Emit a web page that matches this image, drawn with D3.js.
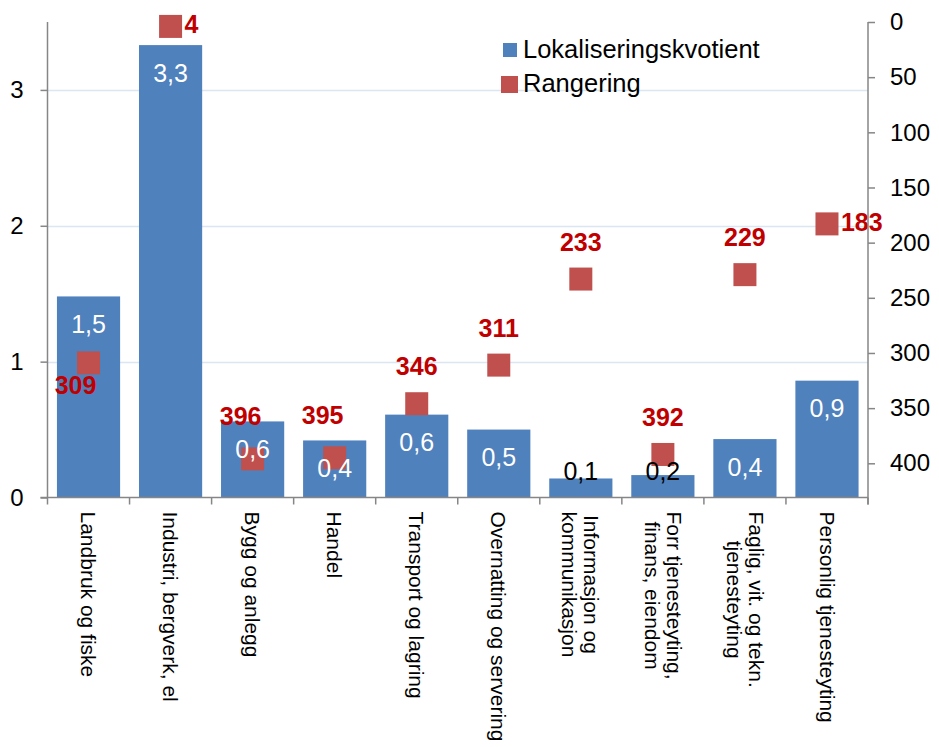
<!DOCTYPE html>
<html>
<head>
<meta charset="utf-8">
<script src="https://cdn.jsdelivr.net/npm/d3@7"></script>
<style>
  html, body { margin: 0; padding: 0; background: #ffffff; }
  svg { display: block; font-family: "Liberation Sans", Arial, sans-serif; }
</style>
</head>
<body>
<svg id="chart" width="939" height="747"></svg>
<script>
// ---- Data ----
const categories = [
  "Landbruk og fiske",
  "Industri, bergverk, el",
  "Bygg og anlegg",
  "Handel",
  "Transport og lagring",
  "Overnatting og servering",
  "Informasjon og\nkommunikasjon",
  "Forr tjenesteyting,\nfinans, eiendom",
  "Faglig, vit. og tekn.\ntjenesteyting",
  "Personlig tjenesteyting"
];
const lqValues = [1.48, 3.33, 0.56, 0.42, 0.61, 0.50, 0.14, 0.165, 0.43, 0.86];
const rankValues = [309, 4, 396, 395, 346, 311, 233, 392, 229, 183];
const rankLabelPlacement = ["below-left", "right", "above-left", "above-left", "above", "above", "above", "above", "above", "right"];
const leftTicks = [0, 1, 2, 3];
const rightTicks = [0, 50, 100, 150, 200, 250, 300, 350, 400];
const seriesNames = ["Lokaliseringskvotient", "Rangering"];

// ---- Layout ----
const svg = d3.select("#chart");
const plotLeft = 47.5, plotRight = 868, plotTop = 22, plotBottom = 497.5;
const barColor = "#4F81BD", rankColor = "#C0504D", rankText = "#C00000";
const axisColor = "#868686", gridColor = "#DCE6F2";

const x = d3.scaleBand().domain(d3.range(categories.length))
  .range([plotLeft, plotRight]).paddingInner(0.23).paddingOuter(0.115);
const yL = d3.scaleLinear().domain([0, 3.5]).range([plotBottom, plotTop]);
const yR = d3.scaleLinear().domain([0, 431]).range([plotTop, plotBottom]);

svg.append("rect").attr("width", 939).attr("height", 747).attr("fill", "#fff");

// gridlines
svg.append("g").selectAll("line").data(leftTicks.filter(d => d > 0)).join("line")
  .attr("x1", plotLeft).attr("x2", plotRight)
  .attr("y1", d => Math.round(yL(d)) + 0.5).attr("y2", d => Math.round(yL(d)) + 0.5)
  .attr("stroke", gridColor).attr("stroke-width", 1.5);

// bars
svg.append("g").selectAll("rect").data(lqValues).join("rect")
  .attr("x", (d, i) => x(i)).attr("width", x.bandwidth())
  .attr("y", d => yL(d)).attr("height", d => yL(0) - yL(d))
  .attr("fill", barColor);

// rank squares
const sq = 23;
svg.append("g").selectAll("rect").data(rankValues).join("rect")
  .attr("x", (d, i) => x(i) + x.bandwidth() / 2 - sq / 2)
  .attr("y", d => yR(d) - sq / 2)
  .attr("width", sq).attr("height", sq)
  .attr("fill", rankColor);

// bar value labels
const fmt = d => d3.format(".1f")(d).replace(".", ",");
svg.append("g").selectAll("text").data(lqValues).join("text")
  .attr("x", (d, i) => x(i) + x.bandwidth() / 2)
  .attr("y", d => Math.min(yL(d) + 28, plotBottom - 26))
  .attr("dy", "0.35em")
  .attr("text-anchor", "middle")
  .attr("font-size", 25)
  .attr("fill", d => (yL(d) + 28 > plotBottom - 26) ? "#000" : "#fff")
  .text(fmt);

// rank labels
const placeOffsets = {
  "above": { dx: 0, dy: -37, anchor: "middle" },
  "above-left": { dx: -12, dy: -43, anchor: "middle" },
  "right": { dx: 14, dy: -2, anchor: "start" },
  "below-left": { dx: -13, dy: 22, anchor: "middle" }
};
svg.append("g").selectAll("text").data(rankValues).join("text")
  .attr("x", (d, i) => x(i) + x.bandwidth() / 2 + placeOffsets[rankLabelPlacement[i]].dx)
  .attr("y", (d, i) => yR(d) + placeOffsets[rankLabelPlacement[i]].dy)
  .attr("dy", "0.35em")
  .attr("text-anchor", (d, i) => placeOffsets[rankLabelPlacement[i]].anchor)
  .attr("font-size", 25).attr("font-weight", "bold")
  .attr("fill", rankText)
  .text(d => d);

// left axis
const gL = svg.append("g").attr("transform", `translate(${plotLeft},0)`)
  .call(d3.axisLeft(yL).tickValues(leftTicks).tickSize(7).tickPadding(17).tickFormat(d3.format("d")));
gL.select(".domain").attr("d", `M-0,${plotTop}V${plotBottom}`);
gL.selectAll("line, path").attr("stroke", axisColor).attr("stroke-width", 1.5);
gL.selectAll("text").attr("font-size", 24).attr("fill", "#000")
  .attr("font-family", "Liberation Sans, Arial, sans-serif");

// right axis
const gR = svg.append("g").attr("transform", `translate(${plotRight},0)`)
  .call(d3.axisRight(yR).tickValues(rightTicks).tickSize(7).tickPadding(15));
gR.select(".domain").attr("d", `M0,${plotTop}V${plotBottom + 7}`);
gR.selectAll("line, path").attr("stroke", axisColor).attr("stroke-width", 1.5);
gR.selectAll("text").attr("font-size", 24).attr("fill", "#000")
  .attr("font-family", "Liberation Sans, Arial, sans-serif");

// bottom axis
const boundaries = d3.range(categories.length + 1).map(i => plotLeft + i * x.step());
svg.append("line").attr("x1", plotLeft - 7).attr("x2", plotRight)
  .attr("y1", plotBottom).attr("y2", plotBottom)
  .attr("stroke", axisColor).attr("stroke-width", 1.5);
svg.append("g").selectAll("line").data(boundaries).join("line")
  .attr("x1", d => d).attr("x2", d => d)
  .attr("y1", plotBottom).attr("y2", plotBottom + 7)
  .attr("stroke", axisColor).attr("stroke-width", 1.5);

// category labels (rotated 90deg)
const labelFont = 21, lineH = 22;
categories.forEach((c, i) => {
  const lines = c.split("\n");
  const g = svg.append("g")
    .attr("transform", `translate(${x(i) + x.bandwidth() / 2},${plotBottom + 14}) rotate(90)`);
  const texts = lines.map((ln, j) => g.append("text")
    .attr("x", 0)
    .attr("y", (j - (lines.length - 1) / 2) * lineH)
    .attr("dy", "0.35em")
    .attr("font-size", labelFont).attr("fill", "#000")
    .text(ln));
  const lens = texts.map(t => t.node().getComputedTextLength());
  const maxLen = d3.max(lens);
  texts.forEach((t, j) => t.attr("x", (maxLen - lens[j]) / 2));
});

// legend
const legend = svg.append("g");
legend.append("rect").attr("x", 503).attr("y", 43).attr("width", 14).attr("height", 14).attr("fill", barColor);
legend.append("text").attr("x", 523).attr("y", 58).attr("font-size", 25.5).text(seriesNames[0]);
legend.append("rect").attr("x", 501).attr("y", 76).attr("width", 17).attr("height", 17).attr("fill", rankColor);
legend.append("text").attr("x", 523).attr("y", 92).attr("font-size", 25.5).text(seriesNames[1]);
</script>
</body>
</html>
